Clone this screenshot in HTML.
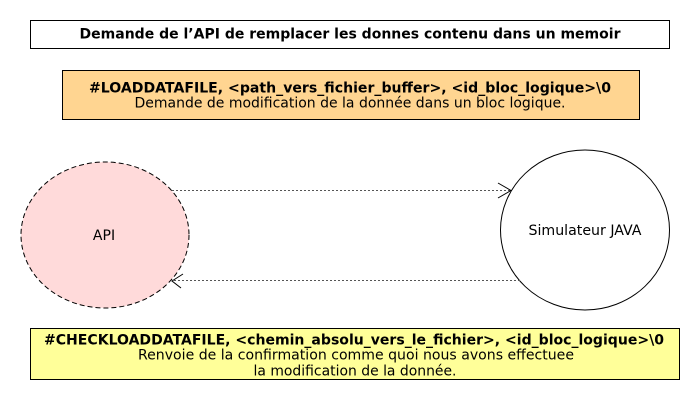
<!DOCTYPE html>
<html><head><meta charset="utf-8"><style>html,body{margin:0;padding:0;background:#fff}svg{display:block}</style></head>
<body>
<svg width="700" height="400" viewBox="0 0 700 400" xmlns="http://www.w3.org/2000/svg" font-family="DejaVu Sans, Liberation Sans, sans-serif">
<rect x="30.5" y="20.5" width="639" height="28" fill="#fff" stroke="#000"/>
<text x="350" y="38.5" text-anchor="middle" font-size="14" font-weight="bold" textLength="541" lengthAdjust="spacingAndGlyphs">Demande de l’API de remplacer les donnes contenu dans un memoir</text>
<rect x="62.5" y="70.5" width="577" height="49" fill="#ffd591" stroke="#000"/>
<text x="350" y="92.5" text-anchor="middle" font-size="14" font-weight="bold" textLength="522" lengthAdjust="spacingAndGlyphs">#LOADDATAFILE, &lt;path_vers_fichier_buffer&gt;, &lt;id_bloc_logique&gt;\0</text>
<text x="350" y="107.5" text-anchor="middle" font-size="14" textLength="431" lengthAdjust="spacingAndGlyphs">Demande de modification de la donnée dans un bloc logique.</text>
<ellipse cx="105" cy="235" rx="84" ry="73" fill="#ffdada" stroke="#000" stroke-dasharray="5,3"/>
<text x="104" y="240" text-anchor="middle" font-size="14">API</text>
<ellipse cx="585" cy="230" rx="84.5" ry="80" fill="#fff" stroke="#000"/>
<text x="585" y="235" text-anchor="middle" font-size="14" textLength="113" lengthAdjust="spacingAndGlyphs">Simulateur JAVA</text>
<line x1="172" y1="190.5" x2="511" y2="190.5" stroke="#555" stroke-dasharray="2,2"/>
<polyline points="498,183 511,190.5 498,198" fill="none" stroke="#000"/>
<line x1="520" y1="280.5" x2="173" y2="280.5" stroke="#555" stroke-dasharray="2,2"/>
<polyline points="183,274 172,281 181,288" fill="none" stroke="#000"/>
<rect x="30.5" y="328.5" width="649" height="51" fill="#ffff99" stroke="#000"/>
<text x="354" y="344.5" text-anchor="middle" font-size="14" font-weight="bold" textLength="620" lengthAdjust="spacingAndGlyphs">#CHECKLOADDATAFILE, &lt;chemin_absolu_vers_le_fichier&gt;, &lt;id_bloc_logique&gt;\0</text>
<text x="356" y="359.5" text-anchor="middle" font-size="14" textLength="436" lengthAdjust="spacingAndGlyphs">Renvoie de la confirmation comme quoi nous avons effectuee</text>
<text x="355" y="375.5" text-anchor="middle" font-size="14" textLength="203" lengthAdjust="spacingAndGlyphs">la modification de la donnée.</text>
</svg>
</body></html>
